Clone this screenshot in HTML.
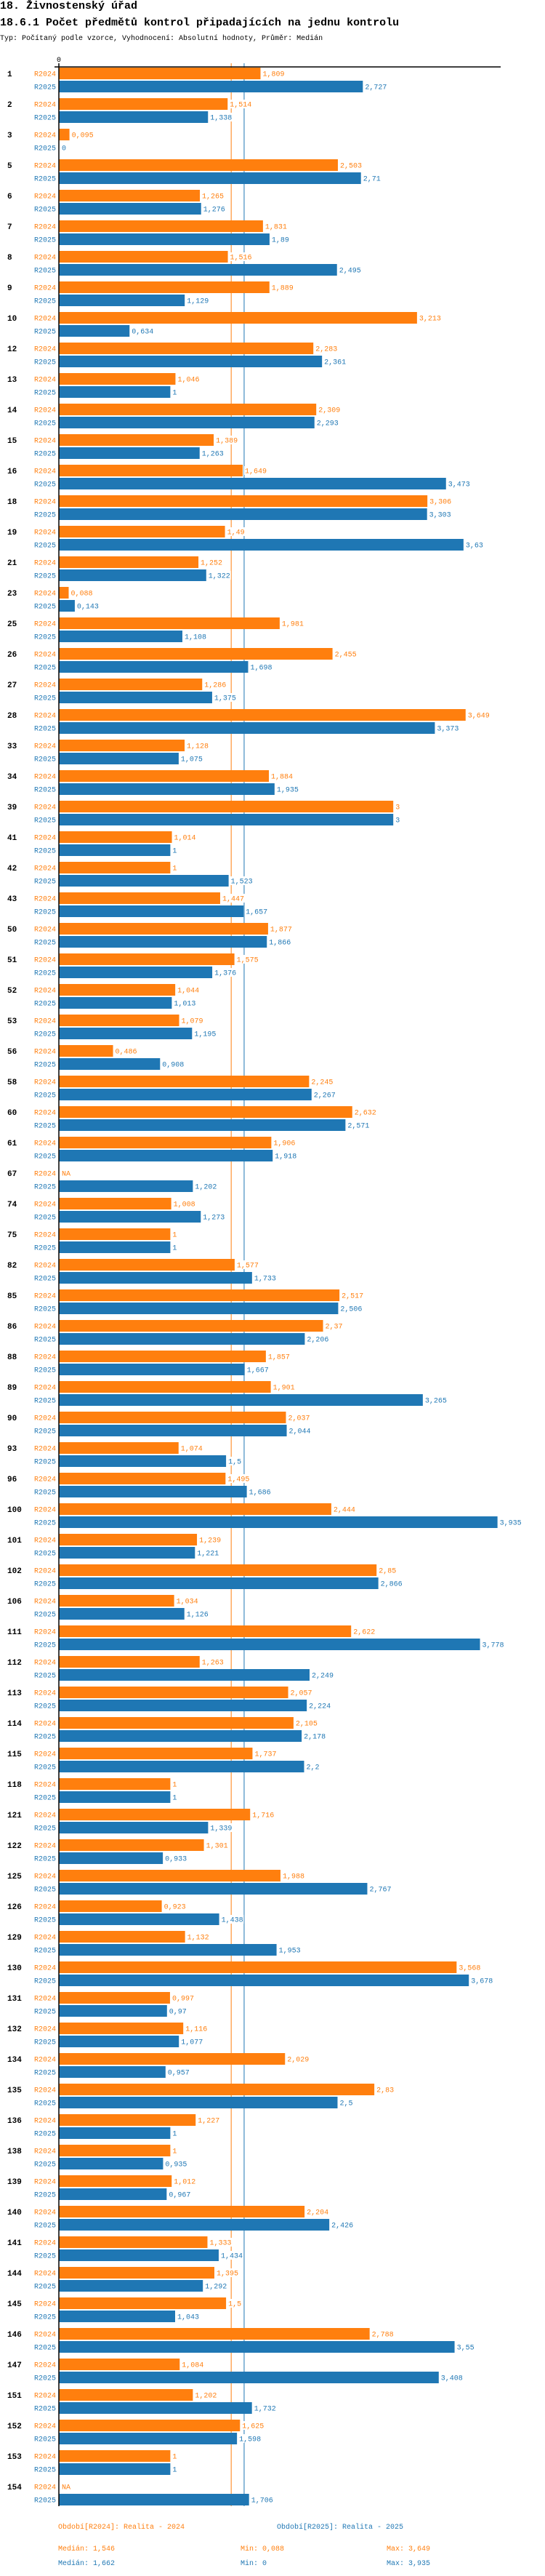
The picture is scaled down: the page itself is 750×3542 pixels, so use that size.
<!DOCTYPE html>
<html><head><meta charset="utf-8">
<style>
body{margin:0;background:#fff;width:750px;height:3542px;overflow:hidden}
svg{display:block}
text{font-family:"Liberation Mono",monospace}
</style></head>
<body>
<svg id="chart" width="750" height="3542" xmlns="http://www.w3.org/2000/svg">
<text x="0" y="12" font-size="15" font-weight="bold">18. Živnostenský úřad</text>
<text x="0" y="35" font-size="15" font-weight="bold">18.6.1 Počet předmětů kontrol připadajících na jednu kontrolu</text>
<text x="0" y="55" font-size="10">Typ: Počítaný podle vzorce, Vyhodnocení: Absolutní hodnoty, Průměr: Medián</text>
<g id="plot"></g>
</svg>
<script>
const categories=["1","2","3","5","6","7","8","9","10","12","13","14","15","16","18","19","21","23","25","26","27","28","33","34","39","41","42","43","50","51","52","53","56","58","60","61","67","74","75","82","85","86","88","89","90","93","96","100","101","102","106","111","112","113","114","115","118","121","122","125","126","129","130","131","132","134","135","136","138","139","140","141","144","145","146","147","151","152","153","154"];
const values2024=[1.809,1.514,0.095,2.503,1.265,1.831,1.516,1.889,3.213,2.283,1.046,2.309,1.389,1.649,3.306,1.49,1.252,0.088,1.981,2.455,1.286,3.649,1.128,1.884,3,1.014,1,1.447,1.877,1.575,1.044,1.079,0.486,2.245,2.632,1.906,null,1.008,1,1.577,2.517,2.37,1.857,1.901,2.037,1.074,1.495,2.444,1.239,2.85,1.034,2.622,1.263,2.057,2.105,1.737,1,1.716,1.301,1.988,0.923,1.132,3.568,0.997,1.116,2.029,2.83,1.227,1,1.012,2.204,1.333,1.395,1.5,2.788,1.084,1.202,1.625,1,null];
const values2025=[2.727,1.338,0,2.71,1.276,1.89,2.495,1.129,0.634,2.361,1,2.293,1.263,3.473,3.303,3.63,1.322,0.143,1.108,1.698,1.375,3.373,1.075,1.935,3,1,1.523,1.657,1.866,1.376,1.013,1.195,0.908,2.267,2.571,1.918,1.202,1.273,1,1.733,2.506,2.206,1.667,3.265,2.044,1.5,1.686,3.935,1.221,2.866,1.126,3.778,2.249,2.224,2.178,2.2,1,1.339,0.933,2.767,1.438,1.953,3.678,0.97,1.077,0.957,2.5,1,0.935,0.967,2.426,1.434,1.292,1.043,3.55,3.408,1.732,1.598,1,1.706];
const medians=[1.546,1.662];
const seriesNames=["R2024","R2025"];

const NS="http://www.w3.org/2000/svg";
const OR="#ff7f0e", BL="#1f77b4";
const x0=81, k=153.4;
function xs(v){return x0+v*k;}
function ys(i){return 101+i*42;}
function fmt(v){return String(v).replace('.',',');}
const plotG=document.getElementById('plot');
function mk(tag,attrs,txt){const e=document.createElementNS(NS,tag);for(const a in attrs)e.setAttribute(a,attrs[a]);if(txt!==undefined)e.textContent=txt;plotG.appendChild(e);return e;}
const lastY=ys(categories.length-1)+25;
[OR,BL].forEach((c,j)=>{
  const l=mk('line',{x1:xs(medians[j]),x2:xs(medians[j]),y1:87,y2:lastY+2,stroke:c,'stroke-width':1});
  
  
});
const topAxis=mk('line',{x1:75,x2:689,y1:92,y2:92,stroke:'#000','stroke-width':1.5});


const zt=mk('text',{x:x0,y:85,'font-size':10,'text-anchor':'middle'},'0');


categories.forEach((c,i)=>{
  const gy=ys(i);
  const cl=mk('text',{x:10,y:gy+4,'font-size':11,'font-weight':'bold'},c);
  
  
  [values2024[i],values2025[i]].forEach((v,j)=>{
    const col=j?BL:OR;
    const cy=gy+j*18;
    const sl=mk('text',{x:77,y:cy+3.5,'font-size':10,'text-anchor':'end',fill:col},seriesNames[j]);
    
    
    let ex=x0+1;
    if(v!==null&&v>0){
      const r=mk('rect',{x:x0,y:cy-8,width:xs(v)-x0,height:16,fill:col});
      
      
      ex=xs(v);
    }
    const t=v===null?'NA':fmt(v);
    const w=t.length*6+2;
    const bg=mk('rect',{x:ex+2,y:cy-6,width:w,height:12,fill:'#fff'});
    
    
    const vl=mk('text',{x:ex+3,y:cy+3.5,'font-size':10,fill:col},t);
    
    
  });
});
const yAxisLine=mk('line',{x1:x0,x2:x0,y1:87,y2:lastY+2,stroke:'#000','stroke-width':1.5});


const legendItems=[[80,3477,OR,'Období[R2024]: Realita - 2024'],[381,3477,BL,'Období[R2025]: Realita - 2025'],
[80,3507,OR,'Medián: 1,546'],[331,3507,OR,'Min: 0,088'],[532,3507,OR,'Max: 3,649'],
[80,3527,BL,'Medián: 1,662'],[331,3527,BL,'Min: 0'],[532,3527,BL,'Max: 3,935']];
legendItems.forEach(l=>{
  const t=mk('text',{x:l[0],y:l[1],'font-size':10,fill:l[2]},l[3]);
  
  
});
</script>
</body></html>
